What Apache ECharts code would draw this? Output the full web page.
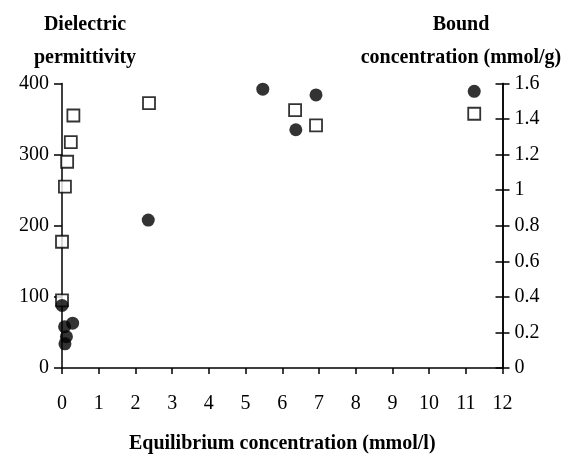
<!DOCTYPE html>
<html>
<head>
<meta charset="utf-8">
<script src="https://cdn.jsdelivr.net/npm/echarts@6/dist/echarts.min.js"></script>
<style>
html,body{margin:0;padding:0;background:#fff;}
#chart{width:567px;height:459px;}
</style>
</head>
<body>
<div id="chart"></div>
<script>
// Filled circles: dielectric permittivity (left axis)
const permX = [0.0, 0.07, 0.29, 0.12, 0.08, 2.35, 5.47, 6.37, 6.92, 11.23];
const permY = [88, 58, 63, 44, 34, 208, 392, 335, 384, 389];
// Open squares: bound concentration, mmol/g (right axis)
const boundX = [0.0, 0.0, 0.08, 0.14, 0.24, 0.31, 2.37, 6.35, 6.92, 11.23];
const boundY = [0.38, 0.71, 1.02, 1.16, 1.27, 1.42, 1.49, 1.45, 1.365, 1.43];
const xTicks = [0, 1, 2, 3, 4, 5, 6, 7, 8, 9, 10, 11, 12];
const leftTicks = [0, 100, 200, 300, 400];
const rightTicks = [0, 0.2, 0.4, 0.6, 0.8, 1, 1.2, 1.4, 1.6];

const font = '"Liberation Serif", "DejaVu Serif", serif';
const chart = echarts.init(document.getElementById('chart'), null, {renderer: 'canvas'});
const pairs = (xs, ys) => xs.map((x, i) => [x, ys[i]]);
const axisLine = {show: true, lineStyle: {color: '#000', width: 1.5}};
const lbl = {color: '#000', fontFamily: font, fontSize: 20};

chart.setOption({
  backgroundColor: '#fff',
  animation: false,
  title: [
    {text: 'Dielectric\npermittivity', left: 80, top: 3, textAlign: 'center',
     textStyle: {fontFamily: font, fontWeight: 'bold', fontSize: 20, color: '#000', lineHeight: 33}},
    {text: 'Bound\nconcentration (mmol/g)', left: 456, top: 3, textAlign: 'center',
     textStyle: {fontFamily: font, fontWeight: 'bold', fontSize: 20, color: '#000', lineHeight: 33}}
  ],
  grid: {left: 62, right: 64.5, top: 83.5, bottom: 85, containLabel: false},
  xAxis: {
    type: 'value', min: xTicks[0], max: xTicks[xTicks.length - 1], interval: 1,
    axisLine: axisLine,
    axisTick: {show: true, length: 6, lineStyle: {color: '#000', width: 1.5}},
    axisLabel: Object.assign({margin: 26}, lbl),
    splitLine: {show: false},
    name: 'Equilibrium concentration (mmol/l)', nameLocation: 'middle', nameGap: 66,
    nameTextStyle: {fontFamily: font, fontWeight: 'bold', fontSize: 20, color: '#000'}
  },
  yAxis: [
    {
      type: 'value', position: 'left', min: leftTicks[0], max: leftTicks[leftTicks.length - 1], interval: 100,
      axisLine: axisLine,
      axisTick: {show: true, length: 8, lineStyle: {color: '#000', width: 1.5}},
      axisLabel: Object.assign({margin: 13}, lbl),
      splitLine: {show: false}
    },
    {
      type: 'value', position: 'right', min: rightTicks[0], max: rightTicks[rightTicks.length - 1], interval: 0.2,
      axisLine: axisLine,
      axisTick: {show: true, length: 7, lineStyle: {color: '#000', width: 1.5}},
      axisLabel: Object.assign({margin: 12, formatter: v => String(+v.toFixed(1))}, lbl),
      splitLine: {show: false}
    },
    {
      type: 'value', position: 'right', min: rightTicks[0], max: rightTicks[rightTicks.length - 1], interval: 0.2,
      axisLine: axisLine,
      axisTick: {show: true, inside: true, length: 7, lineStyle: {color: '#000', width: 1.5}},
      axisLabel: {show: false},
      splitLine: {show: false}
    }
  ],
  series: [
    {
      name: 'Bound concentration', type: 'scatter', yAxisIndex: 1,
      data: pairs(boundX, boundY), symbol: 'rect', symbolSize: 12,
      itemStyle: {color: '#fff', borderColor: '#000', borderWidth: 1.8}, z: 2
    },
    {
      name: 'Dielectric permittivity', type: 'scatter', yAxisIndex: 0,
      data: pairs(permX, permY), symbol: 'circle', symbolSize: 13,
      itemStyle: {color: '#000'}, z: 3
    }
  ]
});
</script>
</body>
</html>
